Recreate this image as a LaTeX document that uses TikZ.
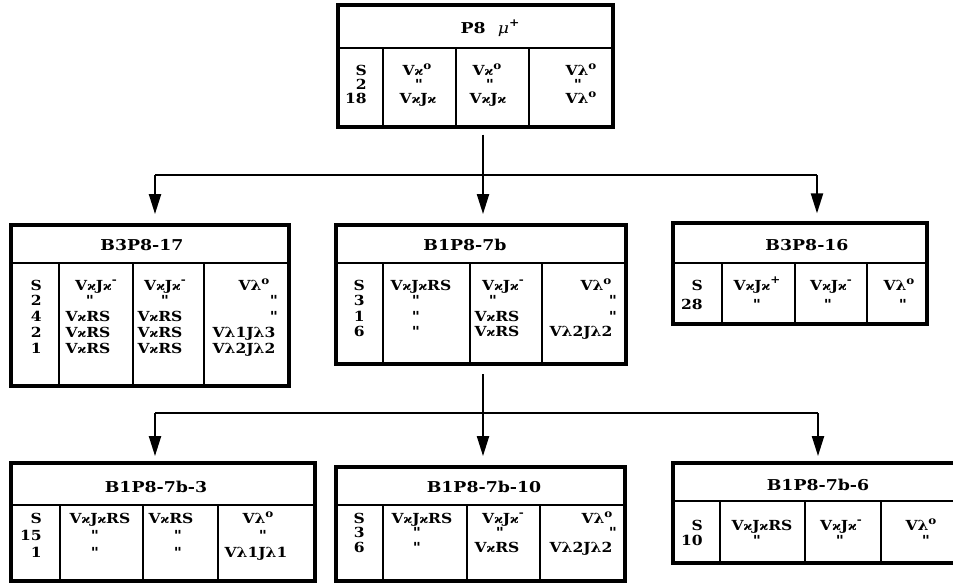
\documentclass[tikz,border=0pt]{standalone}
\usepackage{fontspec}
\usepackage{graphicx}
\setmainfont{Liberation Serif}
\newfontfamily\cellf{DejaVu Serif}
\usetikzlibrary{fit,arrows.meta}
\newcommand{\cfont}{\cellf\bfseries\fontsize{10.4}{10.4}\selectfont}
\newcommand{\hfont}{\cellf\bfseries\fontsize{11.2}{11.2}\selectfont}
\newcommand{\cx}[1]{\scalebox{1.12}[1]{#1}}
\newcommand{\hx}[1]{\scalebox{1.16}[1]{#1}}
\newcommand{\kp}{{\fontsize{8.8}{8.8}\selectfont ϰ}}
\newcommand{\lm}{λ}
\newcommand{\dg}{\smash{\raisebox{0.75ex}{\fontsize{8}{8}\selectfont o}}}
\newcommand{\sm}{\smash{\raisebox{0.9ex}{\fontsize{8}{8}\selectfont -}}}
\newcommand{\spl}{\smash{\raisebox{0.9ex}{\fontsize{8}{8}\selectfont +}}}
\tikzset{
  frame/.style={draw, line width=2.4pt, inner sep=0pt},
  rule/.style={line width=2.2pt},
  conn/.style={line width=1.6pt},
  arr/.style={conn, -{Triangle[length=15pt,width=9pt]}},
  hdr/.style={font=\hfont, inner sep=0pt, anchor=base},
  cell/.style={font=\cfont, inner sep=0pt},
}
% frame: name, x1, y1, x2, y2, y of header rule, column rules
\newcommand{\tframe}[7]{%
  \node[frame, fit={(#2,#3) (#4,#5)}] (#1) {};
  \draw[rule] (#2,#6) -- (#4,#6);
  \foreach \c in {#7} {\draw[rule] (\c,#6) -- (\c,#5);}
}
% right aligned column: name, x right, first baseline, line step, lines
\newcommand{\rr}[5]{%
  \foreach \t [count=\i] in {#5} {\node[cell, anchor=base east] (#1-\i) at (#2,{#3+#4*(\i-1)}) {\cx{\t}};}
}
% centred lines: name, first baseline, line step, list of x/text
\newcommand{\rc}[4]{%
  \foreach \x/\t [count=\i] in {#4} {\node[cell, anchor=base] (#1-\i) at (\x,{#2+#3*(\i-1)}) {\cx{\t}};}
}
\begin{document}
\begin{tikzpicture}[x=0.75pt,y=-0.75pt]
\useasboundingbox (0,0) rectangle (953,582);

% ---------- boxes ----------
\tframe{top}{338}{5}{613}{127}{48}{383,456,529}
\tframe{b17}{11}{225}{289}{386}{263}{59,133,204}
\tframe{b7b}{336}{225}{626}{364}{263}{383,470,542}
\tframe{b16}{673}{223}{927}{324}{263}{722,795,867}
\tframe{b7b3}{11}{463}{315}{581}{505}{60,143,218}
\tframe{b7b10}{336}{467}{625}{581}{505}{383,467,540}
\tframe{b7b6}{673}{463}{965}{563}{501}{720,805,881}

% ---------- headers ----------
\node[hdr] (top-h) at (490,33) {\hx{P8\ \ {\mdseries\itshape μ}\spl}};
\node[hdr] (b17-h) at (142,250) {\hx{B3P8-17}};
\node[hdr] (b7b-h) at (465,250) {\hx{B1P8-7b}};
\node[hdr] (b16-h) at (807,250) {\hx{B3P8-16}};
\node[hdr] (b7b3-h) at (156,492) {\hx{B1P8-7b-3}};
\node[hdr] (b7b10-h) at (484,492) {\hx{B1P8-7b-10}};
\node[hdr] (b7b6-h) at (818,490) {\hx{B1P8-7b-6}};

% ---------- cells: top ----------
\rr{tA1}{367}{75}{14}{S,2,18}
\rc{tA2}{75}{14}{417/V\kp\dg, 419/", 418/V\kp J\kp}
\rc{tA3}{75}{14}{487/V\kp\dg, 490/", 488/V\kp J\kp}
\rc{tA4}{75}{14}{581/V\lm\dg, 578/", 581/V\lm\dg}

% ---------- cells: B3P8-17 ----------
\rr{bB1}{42}{290}{15.75}{S,2,4,2,1}
\rc{bB2}{290}{15.75}{96/V\kp J\kp\sm, 90/", 88/V\kp RS, 88/V\kp RS, 88/V\kp RS}
\rc{bB3}{290}{15.75}{165/V\kp J\kp\sm, 165/", 160/V\kp RS, 160/V\kp RS, 160/V\kp RS}
\rc{bB4}{290}{15.75}{254/V\lm\dg, 274/", 274/", 244/V\lm 1J\lm 3, 244/V\lm 2J\lm 2}

% ---------- cells: B1P8-7b ----------
\rr{cC1}{365}{290}{15.6}{S,3,1,6}
\rc{cC2}{290}{15.6}{421/V\kp J\kp RS, 416/", 416/", 416/"}
\rc{cC3}{290}{15.6}{503/V\kp J\kp\sm, 493/", 497/V\kp RS, 497/V\kp RS}
\rc{cC4}{290}{15.6}{596/V\lm\dg, 613/", 613/", 581/V\lm 2J\lm 2}

% ---------- cells: B3P8-16 ----------
\rr{dD1}{703}{290}{19}{S,28}
\rc{dD2}{290}{19}{757/V\kp J\kp\spl, 757/"}
\rc{dD3}{290}{19}{831/V\kp J\kp\sm, 828/"}
\rc{dD4}{290}{19}{899/V\lm\dg, 903/"}

% ---------- cells: B1P8-7b-3 ----------
\rr{eE1}{42}{523}{17}{S,15,1}
\rc{eE2}{523}{17}{100/V\kp J\kp RS, 95/", 95/"}
\rc{eE3}{523}{17}{171/V\kp RS, 178/", 178/"}
\rc{eE4}{523}{17}{258/V\lm\dg, 263/", 256/V\lm 1J\lm 1}

% ---------- cells: B1P8-7b-10 ----------
\rr{fF1}{365}{523}{14.5}{S,3,6}
\rc{fF2}{523}{14.5}{422/V\kp J\kp RS, 417/", 417/"}
\rc{fF3}{523}{14.5}{503/V\kp J\kp\sm, 500/", 497/V\kp RS}
\rc{fF4}{523}{14.5}{597/V\lm\dg, 613/", 581/V\lm 2J\lm 2}

% ---------- cells: B1P8-7b-6 ----------
\rr{gG1}{703}{530}{15}{S,10}
\rc{gG2}{530}{15}{762/V\kp J\kp RS, 757/"}
\rc{gG3}{530}{15}{841/V\kp J\kp\sm, 840/"}
\rc{gG4}{530}{15}{921/V\lm\dg, 926/"}

% ---------- connectors ----------
\coordinate (jA) at (155,175);
\coordinate (jM) at (483,175);
\coordinate (jB) at (817,175);
\draw[conn] (jA) -- (jB);
\draw[arr] ([yshift=-4.5pt]top.south -| jM) -- ([yshift=7pt]b7b.north -| jM);
\draw[arr] (jA) -- ([yshift=7pt]b17.north -| jA);
\draw[arr] (jB) -- ([yshift=6pt]b16.north -| jB);

\coordinate (kA) at (155,413);
\coordinate (kM) at (483,413);
\coordinate (kB) at (818,413);
\draw[conn] (kA) -- (kB);
\draw[arr] ([yshift=-6.5pt]b7b.south -| kM) -- ([yshift=7pt]b7b10.north -| kM);
\draw[arr] (kA) -- ([yshift=4pt]b7b3.north -| kA);
\draw[arr] (kB) -- ([yshift=4pt]b7b6.north -| kB);
\end{tikzpicture}
\end{document}
